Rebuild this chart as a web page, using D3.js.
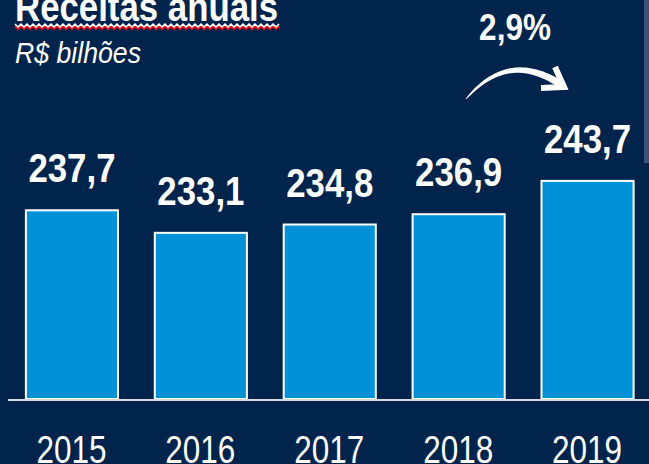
<!DOCTYPE html>
<html>
<head>
<meta charset="utf-8">
<script src="https://cdn.jsdelivr.net/npm/d3@7/dist/d3.min.js"></script>
<style>
  html, body { margin: 0; padding: 0; background: #01244c; overflow: hidden; }
  svg { display: block; }
  text { font-family: "Liberation Sans", Arial, sans-serif; fill: #ffffff; }
</style>
</head>
<body>
<svg id="chart" width="649" height="464"></svg>
<script>
// ---- data ----
const years = ["2015", "2016", "2017", "2018", "2019"];
const revenues = [237.7, 233.1, 234.8, 236.9, 243.7];
const valueLabels = ["237,7", "233,1", "234,8", "236,9", "243,7"];
const titleText = "Receitas anuais";
const subtitleText = "R$ bilhões";
const growthText = "2,9%";

const W = 649, H = 464;
const FONT = "'Liberation Sans', Arial, sans-serif";
const NARROW = "'Liberation Sans Narrow', 'Arial Narrow', Roboto, sans-serif";
const svg = d3.select("#chart");

svg.append("rect").attr("width", W).attr("height", H).attr("fill", "#01244c");

const x = d3.scaleBand().domain(years).range([7.5, 652]).paddingInner(0.27).paddingOuter(0.135);
const y = d3.scaleLinear().domain([199, 250]).range([399, 149]);

// right edge gray strip
svg.append("rect").attr("x", 644).attr("y", 0).attr("width", 5).attr("height", 163).attr("fill", "#3a5277");

// bars
svg.selectAll("rect.bar").data(revenues).enter().append("rect")
  .attr("class", "bar")
  .attr("x", (d, i) => x(years[i]) + 1)
  .attr("width", x.bandwidth() - 2)
  .attr("y", d => y(d) + 1)
  .attr("height", d => y.range()[0] - y(d) - 1)
  .attr("fill", "#0091d6")
  .attr("stroke", "#ffffff")
  .attr("stroke-width", 2);

// baseline
svg.append("line").attr("x1", 8).attr("x2", W).attr("y1", 400).attr("y2", 400)
  .attr("stroke", "#d4d8e0").attr("stroke-width", 2);

// value labels
svg.selectAll("text.val").data(revenues).enter().append("text")
  .attr("class", "val")
  .attr("font-family", FONT)
  .attr("text-anchor", "middle")
  .attr("font-weight", "bold")
  .attr("font-size", 40.5)
  .attr("transform", (d, i) => `translate(${x(years[i]) + x.bandwidth() / 2},${y(d) - 27}) scale(0.86,1)`)
  .text((d, i) => valueLabels[i]);

// year labels
svg.selectAll("text.yr").data(years).enter().append("text")
  .attr("class", "yr")
  .attr("font-family", NARROW)
  .attr("text-anchor", "middle")
  .attr("font-size", 39.5)
  .attr("textLength", 70)
  .attr("lengthAdjust", "spacingAndGlyphs")
  .attr("x", d => x(d) + x.bandwidth() / 2 - 0.5)
  .attr("y", 462.5)
  .text(d => d);

// title
svg.append("text").attr("font-family", FONT).attr("font-weight", "bold").attr("font-size", 40)
  .attr("transform", "translate(15,21) scale(0.87,1)").text(titleText);

// spell-check style wavy underline
function zig(y0, amp) {
  let p = `M15,${y0}`;
  for (let xx = 15, k = 0; xx < 279; xx += 3, k++) {
    p += `L${xx + 3},${y0 + (k % 2 === 0 ? amp : 0)}`;
  }
  return p;
}
svg.append("path").attr("d", zig(26, 3)).attr("fill", "none").attr("stroke", "#e8101a").attr("stroke-width", 2);
svg.append("path").attr("d", zig(24, 3)).attr("fill", "none").attr("stroke", "#ffffff").attr("stroke-width", 1.5);

// subtitle
svg.append("text").attr("font-family", FONT).attr("font-style", "italic").attr("font-size", 29)
  .attr("transform", "translate(15,63) scale(0.92,1)").text(subtitleText);

// growth label
svg.append("text").attr("font-family", FONT).attr("text-anchor", "middle").attr("font-weight", "bold").attr("font-size", 37.5)
  .attr("transform", "translate(515,40) scale(0.84,1)").text(growthText);

// curved tapered arrow
(function () {
  const P0 = [466, 99], P1 = [508, 50], P2 = [560, 84];
  const N = 40, outer = [], inner = [];
  for (let i = 0; i <= N; i++) {
    const t = i / N;
    const bx = (1 - t) * (1 - t) * P0[0] + 2 * (1 - t) * t * P1[0] + t * t * P2[0];
    const by = (1 - t) * (1 - t) * P0[1] + 2 * (1 - t) * t * P1[1] + t * t * P2[1];
    const dx = 2 * (1 - t) * (P1[0] - P0[0]) + 2 * t * (P2[0] - P1[0]);
    const dy = 2 * (1 - t) * (P1[1] - P0[1]) + 2 * t * (P2[1] - P1[1]);
    const len = Math.hypot(dx, dy);
    const nx = -dy / len, ny = dx / len;
    const w = 0.3 + 3.3 * Math.pow(t, 0.6);
    outer.push([bx + nx * w, by + ny * w]);
    inner.push([bx - nx * w, by - ny * w]);
  }
  const pts = outer.concat(inner.reverse());
  svg.append("path").attr("d", "M" + pts.map(p => p.join(",")).join("L") + "Z").attr("fill", "#ffffff");
  svg.append("path").attr("d", "M555,67L564,87L541,88")
    .attr("fill", "none").attr("stroke", "#ffffff").attr("stroke-width", 6)
    .attr("stroke-linejoin", "miter").attr("stroke-linecap", "butt");
})();
</script>
</body>
</html>
